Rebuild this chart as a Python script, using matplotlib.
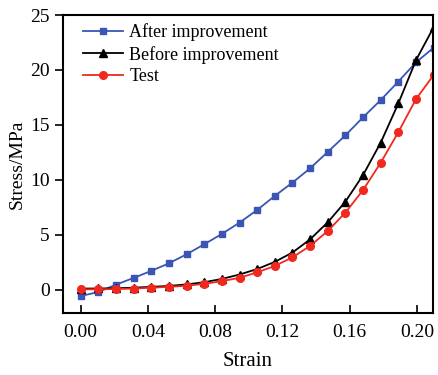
import matplotlib
matplotlib.use("Agg")
import matplotlib.pyplot as plt

# strain points (21 samples, step 0.0105)
strain = [0.0, 0.0105, 0.021, 0.0315, 0.042, 0.0525, 0.063, 0.0735, 0.084, 0.0945,
          0.105, 0.1155, 0.126, 0.1365, 0.147, 0.1575, 0.168, 0.1785, 0.189, 0.1995, 0.21]

after_improvement = [-0.55, -0.2, 0.48, 1.09, 1.73, 2.42, 3.24, 4.15, 5.09, 6.12,
                     7.27, 8.55, 9.76, 11.06, 12.55, 14.06, 15.7, 17.27, 18.95, 20.7, 22.03]
before_improvement = [0.12, 0.13, 0.15, 0.2, 0.28, 0.36, 0.5, 0.7, 1.0, 1.4,
                      1.9, 2.55, 3.4, 4.6, 6.15, 8.03, 10.45, 13.4, 16.97, 20.9, 23.9]
test = [0.05, 0.06, 0.08, 0.12, 0.2, 0.28, 0.38, 0.55, 0.8, 1.1,
        1.6, 2.18, 2.97, 4.0, 5.36, 7.03, 9.09, 11.57, 14.36, 17.36, 19.55]

plt.rcParams["font.family"] = ["Liberation Serif", "DejaVu Serif"]

fig = plt.figure(figsize=(4.39, 3.75), dpi=100)
ax = fig.add_axes([0.1435, 0.1653, 0.8425, 0.7947])

ax.plot(strain, after_improvement, "-s", color="#3a55b4", markersize=5, linewidth=1.3,
        label="After improvement")
ax.plot(strain, before_improvement, "-^", color="black", markersize=6, linewidth=1.3,
        label="Before improvement")
ax.plot(strain, test, "-o", color="#f0281e", markersize=5.5, linewidth=1.3,
        label="Test")

ax.set_xlim(-0.0105, 0.2095)
ax.set_ylim(-2.1, 25)
ax.set_xticks([0.0, 0.04, 0.08, 0.12, 0.16, 0.20])
ax.set_xticklabels(["0.00", "0.04", "0.08", "0.12", "0.16", "0.20"])
ax.set_yticks([0, 5, 10, 15, 20, 25])

ax.tick_params(axis="x", direction="in", length=6, width=1.2, labelsize=14, pad=8)
ax.tick_params(axis="y", direction="out", length=6, width=1.2, labelsize=14)
for s in ax.spines.values():
    s.set_linewidth(1.5)

ax.set_xlabel("Strain", fontsize=15, labelpad=8)
ax.set_ylabel("Stress/MPa", fontsize=14, labelpad=3)

ax.legend(loc="upper left", bbox_to_anchor=(0.04, 0.99), frameon=False, fontsize=13,
          handlelength=2.2, borderaxespad=0, labelspacing=0.25, handletextpad=0.35,
          borderpad=0.3)

fig.savefig("out.png", dpi=100)
